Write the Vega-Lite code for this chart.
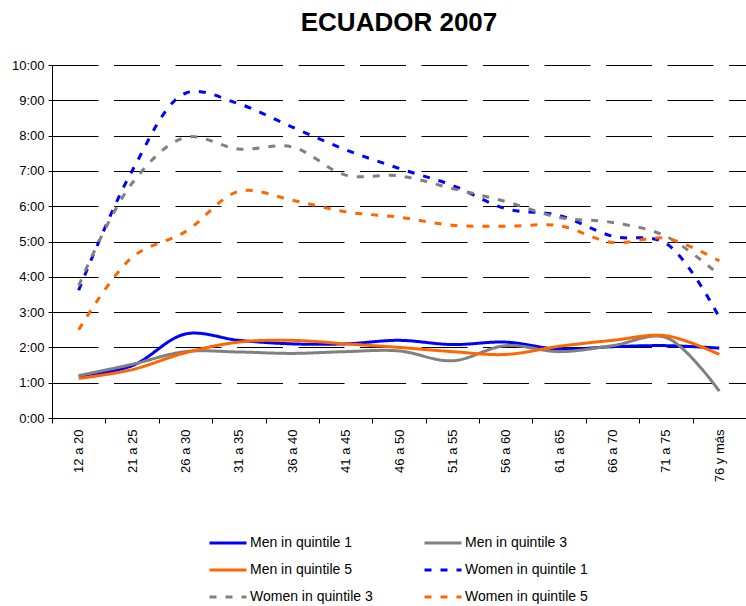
{
  "$schema": "https://vega.github.io/schema/vega-lite/v6.json",
  "autosize": {"type": "none"},
  "width": 694,
  "height": 353,
  "padding": {"left": 52, "top": 65, "right": 0, "bottom": 188},
  "title": {"text": "ECUADOR 2007", "font": "Liberation Sans", "fontSize": 26, "fontWeight": "bold", "color": "#000000", "anchor": "middle", "frame": "group", "offset": 2, "baseline": "alphabetic"},
  "config": {
    "view": {"stroke": null},
    "font": "Liberation Sans"
  },
  "data": {"values": [
    {"age": "12 a 20", "series": "Men in quintile 1", "hours": 1.18},
    {"age": "21 a 25", "series": "Men in quintile 1", "hours": 1.48},
    {"age": "26 a 30", "series": "Men in quintile 1", "hours": 2.38},
    {"age": "31 a 35", "series": "Men in quintile 1", "hours": 2.2},
    {"age": "36 a 40", "series": "Men in quintile 1", "hours": 2.1},
    {"age": "41 a 45", "series": "Men in quintile 1", "hours": 2.1},
    {"age": "46 a 50", "series": "Men in quintile 1", "hours": 2.2},
    {"age": "51 a 55", "series": "Men in quintile 1", "hours": 2.08},
    {"age": "56 a 60", "series": "Men in quintile 1", "hours": 2.15},
    {"age": "61 a 65", "series": "Men in quintile 1", "hours": 1.95},
    {"age": "66 a 70", "series": "Men in quintile 1", "hours": 2.02},
    {"age": "71 a 75", "series": "Men in quintile 1", "hours": 2.05},
    {"age": "76 y más", "series": "Men in quintile 1", "hours": 1.98},
    {"age": "12 a 20", "series": "Men in quintile 3", "hours": 1.2},
    {"age": "21 a 25", "series": "Men in quintile 3", "hours": 1.52},
    {"age": "26 a 30", "series": "Men in quintile 3", "hours": 1.88},
    {"age": "31 a 35", "series": "Men in quintile 3", "hours": 1.87},
    {"age": "36 a 40", "series": "Men in quintile 3", "hours": 1.83},
    {"age": "41 a 45", "series": "Men in quintile 3", "hours": 1.88},
    {"age": "46 a 50", "series": "Men in quintile 3", "hours": 1.9},
    {"age": "51 a 55", "series": "Men in quintile 3", "hours": 1.62},
    {"age": "56 a 60", "series": "Men in quintile 3", "hours": 2.05},
    {"age": "61 a 65", "series": "Men in quintile 3", "hours": 1.88},
    {"age": "66 a 70", "series": "Men in quintile 3", "hours": 2.05},
    {"age": "71 a 75", "series": "Men in quintile 3", "hours": 2.28},
    {"age": "76 y más", "series": "Men in quintile 3", "hours": 0.76},
    {"age": "12 a 20", "series": "Men in quintile 5", "hours": 1.12},
    {"age": "21 a 25", "series": "Men in quintile 5", "hours": 1.37},
    {"age": "26 a 30", "series": "Men in quintile 5", "hours": 1.85},
    {"age": "31 a 35", "series": "Men in quintile 5", "hours": 2.15},
    {"age": "36 a 40", "series": "Men in quintile 5", "hours": 2.2},
    {"age": "41 a 45", "series": "Men in quintile 5", "hours": 2.1},
    {"age": "46 a 50", "series": "Men in quintile 5", "hours": 2.0},
    {"age": "51 a 55", "series": "Men in quintile 5", "hours": 1.88},
    {"age": "56 a 60", "series": "Men in quintile 5", "hours": 1.8},
    {"age": "61 a 65", "series": "Men in quintile 5", "hours": 2.03},
    {"age": "66 a 70", "series": "Men in quintile 5", "hours": 2.2},
    {"age": "71 a 75", "series": "Men in quintile 5", "hours": 2.33},
    {"age": "76 y más", "series": "Men in quintile 5", "hours": 1.8},
    {"age": "12 a 20", "series": "Women in quintile 1", "hours": 3.62},
    {"age": "21 a 25", "series": "Women in quintile 1", "hours": 7.0},
    {"age": "26 a 30", "series": "Women in quintile 1", "hours": 9.2},
    {"age": "31 a 35", "series": "Women in quintile 1", "hours": 8.9},
    {"age": "36 a 40", "series": "Women in quintile 1", "hours": 8.24},
    {"age": "41 a 45", "series": "Women in quintile 1", "hours": 7.6},
    {"age": "46 a 50", "series": "Women in quintile 1", "hours": 7.07},
    {"age": "51 a 55", "series": "Women in quintile 1", "hours": 6.59},
    {"age": "56 a 60", "series": "Women in quintile 1", "hours": 5.93},
    {"age": "61 a 65", "series": "Women in quintile 1", "hours": 5.74},
    {"age": "66 a 70", "series": "Women in quintile 1", "hours": 5.15},
    {"age": "71 a 75", "series": "Women in quintile 1", "hours": 4.95},
    {"age": "76 y más", "series": "Women in quintile 1", "hours": 2.85},
    {"age": "12 a 20", "series": "Women in quintile 3", "hours": 3.75},
    {"age": "21 a 25", "series": "Women in quintile 3", "hours": 6.65},
    {"age": "26 a 30", "series": "Women in quintile 3", "hours": 7.95},
    {"age": "31 a 35", "series": "Women in quintile 3", "hours": 7.62},
    {"age": "36 a 40", "series": "Women in quintile 3", "hours": 7.68},
    {"age": "41 a 45", "series": "Women in quintile 3", "hours": 6.88},
    {"age": "46 a 50", "series": "Women in quintile 3", "hours": 6.86},
    {"age": "51 a 55", "series": "Women in quintile 3", "hours": 6.5},
    {"age": "56 a 60", "series": "Women in quintile 3", "hours": 6.13},
    {"age": "61 a 65", "series": "Women in quintile 3", "hours": 5.68},
    {"age": "66 a 70", "series": "Women in quintile 3", "hours": 5.54},
    {"age": "71 a 75", "series": "Women in quintile 3", "hours": 5.15},
    {"age": "76 y más", "series": "Women in quintile 3", "hours": 4.05},
    {"age": "12 a 20", "series": "Women in quintile 5", "hours": 2.5},
    {"age": "21 a 25", "series": "Women in quintile 5", "hours": 4.55},
    {"age": "26 a 30", "series": "Women in quintile 5", "hours": 5.28},
    {"age": "31 a 35", "series": "Women in quintile 5", "hours": 6.42},
    {"age": "36 a 40", "series": "Women in quintile 5", "hours": 6.17},
    {"age": "41 a 45", "series": "Women in quintile 5", "hours": 5.84},
    {"age": "46 a 50", "series": "Women in quintile 5", "hours": 5.69},
    {"age": "51 a 55", "series": "Women in quintile 5", "hours": 5.46},
    {"age": "56 a 60", "series": "Women in quintile 5", "hours": 5.43},
    {"age": "61 a 65", "series": "Women in quintile 5", "hours": 5.45},
    {"age": "66 a 70", "series": "Women in quintile 5", "hours": 4.97},
    {"age": "71 a 75", "series": "Women in quintile 5", "hours": 5.09},
    {"age": "76 y más", "series": "Women in quintile 5", "hours": 4.45}
  ]},
  "mark": {"type": "line", "interpolate": "catmull-rom", "strokeWidth": 3},
  "encoding": {
    "x": {
      "field": "age", "type": "ordinal", "sort": null, "bandPosition": 0.5,
      "scale": {"type": "band", "paddingInner": 0, "paddingOuter": 0},
      "axis": {
        "title": null, "labelAngle": -90, "labelAlign": "right", "labelBaseline": "middle",
        "labelFontSize": 13, "labelColor": "#000000", "labelPadding": 6,
        "tickBand": "extent", "tickSize": 5, "tickColor": "#000000",
        "domainColor": "#000000", "domainWidth": 1, "grid": false
      }
    },
    "y": {
      "field": "hours", "type": "quantitative",
      "scale": {"domain": [0, 10], "nice": false},
      "axis": {
        "title": null, "values": [0, 1, 2, 3, 4, 5, 6, 7, 8, 9, 10],
        "labelExpr": "format(datum.value, 'd') + ':00'",
        "labelFontSize": 13, "labelColor": "#000000", "labelPadding": 4,
        "tickSize": 4, "tickColor": "#000000",
        "domainColor": "#000000", "domainWidth": 1,
        "grid": true, "gridColor": "#000000", "gridWidth": 1, "gridDash": [46, 15.5], "gridOpacity": 1
      }
    },
    "color": {
      "field": "series", "type": "nominal",
      "scale": {
        "domain": ["Men in quintile 1", "Men in quintile 3", "Men in quintile 5", "Women in quintile 1", "Women in quintile 3", "Women in quintile 5"],
        "range": ["#0000FF", "#808080", "#FF6600", "#0000FF", "#808080", "#FF6600"]
      },
      "legend": {
        "title": null, "orient": "none", "legendX": 156, "legendY": 458, "columns": 2,
        "direction": "horizontal",
        "columnPadding": 45, "rowPadding": -9.5, "symbolType": "stroke", "symbolSize": 1369,
        "symbolStrokeWidth": 3, "labelFontSize": 14, "labelColor": "#000000", "labelOffset": 2,
        "labelLimit": 300
      }
    },
    "strokeDash": {
      "field": "series", "type": "nominal",
      "scale": {
        "domain": ["Men in quintile 1", "Men in quintile 3", "Men in quintile 5", "Women in quintile 1", "Women in quintile 3", "Women in quintile 5"],
        "range": [[1, 0], [1, 0], [1, 0], [7, 9], [7, 9], [7, 9]]
      }
    }
  }
}
